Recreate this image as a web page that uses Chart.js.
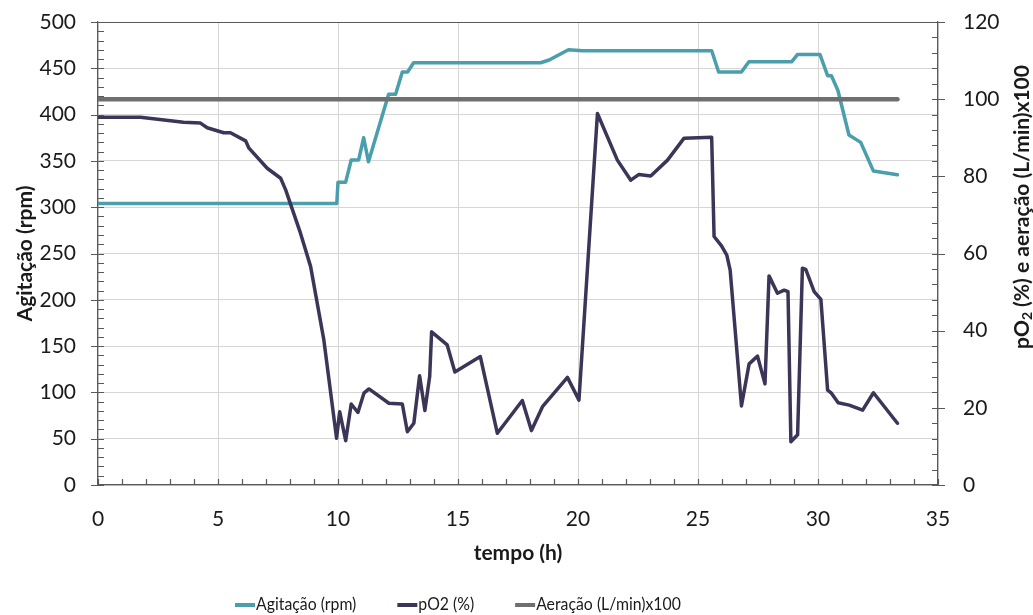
<!DOCTYPE html>
<html>
<head>
<meta charset="utf-8">
<script src="https://cdn.jsdelivr.net/npm/chart.js@4"></script>
<style>
  html, body { margin: 0; padding: 0; background: #fff; }
  canvas { display: block; }
</style>
</head>
<body>
<canvas id="c" width="1033" height="615"></canvas>
<script>
// Agitação (rpm) over time (h)
const agitTime = [0, 9.95, 10.0, 10.32, 10.55, 10.86, 11.07, 11.27, 12.11, 12.40, 12.68, 12.90, 13.15, 18.44, 18.8, 19.6, 20.2, 25.57, 25.86, 26.81, 27.12, 28.90, 29.15, 30.08, 30.40, 30.56, 30.83, 31.29, 31.78, 32.31, 33.31];
const agitRpm  = [304, 304, 327, 327, 351, 351, 375, 349, 422, 422, 446, 446, 456, 456, 459, 470, 469, 469, 446, 446, 457, 457, 465, 465, 442, 442, 426, 378, 370, 339, 335];

// pO2 (%) over time (h)
const po2Time = [0, 1.77, 3.56, 4.27, 4.55, 5.24, 5.52, 6.15, 6.29, 7.05, 7.61, 7.82, 8.44, 8.86, 9.41, 9.94, 10.07, 10.32, 10.55, 10.83, 11.08, 11.29, 12.12, 12.68, 12.89, 13.16, 13.40, 13.62, 13.82, 13.90, 14.55, 14.87, 15.93, 16.64, 17.68, 18.06, 18.52, 19.56, 20.04, 20.81, 21.64, 22.20, 22.54, 23.03, 23.73, 24.42, 25.57, 25.67, 25.98, 26.20, 26.34, 26.81, 27.13, 27.48, 27.79, 27.96, 28.31, 28.59, 28.75, 28.87, 29.15, 29.35, 29.49, 29.84, 30.12, 30.40, 30.56, 30.84, 31.30, 31.86, 32.31, 33.31];
const po2Pct  = [95.3, 95.3, 94.0, 93.8, 92.6, 91.3, 91.3, 89.2, 87.3, 82.1, 79.5, 76.5, 65.2, 56.6, 37.6, 12.1, 19.0, 11.5, 21.0, 18.8, 23.8, 24.9, 21.2, 21.0, 13.8, 16.0, 28.3, 19.3, 28.1, 39.7, 36.3, 29.3, 33.3, 13.4, 21.9, 14.1, 20.3, 27.9, 22.0, 96.3, 84.2, 79.0, 80.5, 80.1, 84.2, 89.9, 90.1, 64.4, 62.0, 59.6, 55.7, 20.5, 31.4, 33.4, 26.2, 54.2, 49.7, 50.5, 50.1, 11.2, 13.0, 56.2, 55.9, 50.1, 48.1, 24.6, 23.8, 21.3, 20.7, 19.4, 23.9, 16.0];

// Aeração (L/min) x100 over time (h)
const aerTime  = [0, 33.31];
const aerValue = [100, 100];

// Axis ranges and tick steps
const xTicks  = { min: 0, max: 35, step: 5, minor: 1 };
const yTicks  = { min: 0, max: 500, step: 50, minor: 10 };
const y2Ticks = { min: 0, max: 120, step: 20, minor: 4 };

const seriesNames = ['Agitação (rpm)', 'pO2 (%)', 'Aeração (L/min)x100'];
const xTitle = 'tempo (h)';
const yTitle = 'Agitação (rpm)';

const pts = (xs, ys) => xs.map((x, i) => ({ x, y: ys[i] }));

const FONT = 'Lato, "Open Sans", sans-serif';
const TEXT = '#1a1a1a';
const AXIS = '#595959';

// Frame, tick marks, axis titles and legend
const decor = {
  id: 'decor',
  afterDraw(chart) {
    const { ctx, chartArea: a, scales: { x, y, y2 } } = chart;
    ctx.save();
    ctx.strokeStyle = AXIS;
    ctx.lineWidth = 1.2;
    ctx.beginPath();
    ctx.moveTo(a.left, a.top + 0.5);
    ctx.lineTo(a.right, a.top + 0.5);
    for (let t = xTicks.min; t <= xTicks.max; t += xTicks.minor) {
      const px = Math.round(x.getPixelForValue(t)) + 0.5;
      ctx.moveTo(px, a.bottom);
      ctx.lineTo(px, a.bottom - 6);
    }
    for (let v = yTicks.min; v <= yTicks.max; v += yTicks.minor) {
      const py = Math.round(y.getPixelForValue(v)) + 0.5;
      const major = v % yTicks.step === 0;
      ctx.moveTo(a.left - (major ? 7 : 0), py);
      ctx.lineTo(a.left + 6, py);
    }
    for (let v = y2Ticks.min; v <= y2Ticks.max; v += y2Ticks.minor) {
      const py = Math.round(y2.getPixelForValue(v)) + 0.5;
      const major = v % y2Ticks.step === 0;
      ctx.moveTo(a.right - 6, py);
      ctx.lineTo(a.right + (major ? 7 : 0), py);
    }
    ctx.stroke();

    // axis titles
    ctx.fillStyle = TEXT;
    ctx.textBaseline = 'middle';
    ctx.textAlign = 'center';
    ctx.font = 'bold 21px ' + FONT;
    ctx.fillText(xTitle, (a.left + a.right) / 2, 553);

    ctx.save();
    ctx.translate(25, (a.top + a.bottom) / 2);
    ctx.rotate(-Math.PI / 2);
    ctx.fillText(yTitle, 0, 0);
    ctx.restore();

    // right title with subscript
    const parts = [
      { t: 'pO', f: 'bold 21px ' + FONT, dy: 0 },
      { t: '2', f: 'bold 14px ' + FONT, dy: 5 },
      { t: ' (%) e aeração (L/min)x100', f: 'bold 21px ' + FONT, dy: 0 }
    ];
    let total = 0;
    parts.forEach(p => { ctx.font = p.f; p.w = ctx.measureText(p.t).width; total += p.w; });
    ctx.save();
    ctx.translate(1022, 207);
    ctx.rotate(-Math.PI / 2);
    ctx.textAlign = 'left';
    let cx = -total / 2;
    parts.forEach(p => { ctx.font = p.f; ctx.fillText(p.t, cx, p.dy); cx += p.w; });
    ctx.restore();

    // legend
    ctx.font = '17px ' + FONT;
    ctx.textAlign = 'left';
    let lx = 235;
    const ly = 605;
    chart.data.datasets.forEach(ds => {
      ctx.strokeStyle = ds.borderColor;
      ctx.lineWidth = 4;
      ctx.lineCap = 'butt';
      ctx.beginPath();
      ctx.moveTo(lx, ly);
      ctx.lineTo(lx + 20, ly);
      ctx.stroke();
      ctx.fillStyle = TEXT;
      ctx.save();
      ctx.translate(lx + 21, ly);
      ctx.scale(0.93, 1);
      ctx.fillText(ds.label, 0, 0);
      ctx.restore();
      lx += 21 + ctx.measureText(ds.label).width * 0.93 + 41;
    });
    ctx.restore();
  }
};

const lineStyle = { pointRadius: 0, tension: 0, borderJoinStyle: 'round', borderCapStyle: 'round', fill: false };

// Fixed axis boxes so the plot area sits at left 98, right 938, top 22, bottom 485
const fitVertical = w => s => { s.width = w; s.paddingTop = 0; s.paddingBottom = 0; };

new Chart(document.getElementById('c'), {
  type: 'line',
  data: {
    datasets: [
      { label: seriesNames[0], data: pts(agitTime, agitRpm), yAxisID: 'y', borderColor: '#4b9eab', borderWidth: 3.5, order: 3, ...lineStyle },
      { label: seriesNames[1], data: pts(po2Time, po2Pct), yAxisID: 'y2', borderColor: '#3d3558', borderWidth: 3.5, order: 1, ...lineStyle },
      { label: seriesNames[2], data: pts(aerTime, aerValue), yAxisID: 'y2', borderColor: '#6f6f6f', borderWidth: 4.5, order: 2, ...lineStyle }
    ]
  },
  options: {
    responsive: false,
    animation: false,
    layout: { padding: { top: 22, left: 0, right: 0, bottom: 0 } },
    plugins: { legend: { display: false }, tooltip: { enabled: false } },
    scales: {
      x: {
        type: 'linear', min: xTicks.min, max: xTicks.max,
        ticks: { stepSize: xTicks.step, padding: 22, color: TEXT, font: { family: FONT, size: 21 }, maxRotation: 0 },
        grid: { color: '#d6d6d6', lineWidth: 1, drawTicks: false },
        border: { color: AXIS, width: 1.2 },
        afterFit(s) { s.height = 130; s.paddingLeft = 0; s.paddingRight = 0; }
      },
      y: {
        type: 'linear', position: 'left', min: yTicks.min, max: yTicks.max,
        ticks: { stepSize: yTicks.step, padding: 22, color: TEXT, font: { family: FONT, size: 21 } },
        grid: { color: '#d6d6d6', lineWidth: 1, drawTicks: false },
        border: { color: AXIS, width: 1.2 },
        afterFit: fitVertical(98)
      },
      y2: {
        type: 'linear', position: 'right', min: y2Ticks.min, max: y2Ticks.max,
        ticks: { stepSize: y2Ticks.step, padding: 25, color: TEXT, font: { family: FONT, size: 21 } },
        grid: { display: false, drawTicks: false },
        border: { color: AXIS, width: 1.2 },
        afterFit: fitVertical(95)
      }
    }
  },
  plugins: [decor]
});
</script>
</body>
</html>
